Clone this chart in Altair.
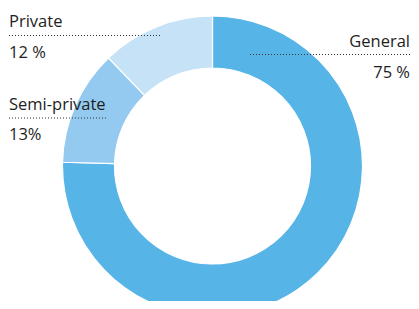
import altair as alt
import pandas as pd

categories = ["General", "Semi-private", "Private"]
shares = [75.4, 12.4, 12.2]
value_labels = ["75 %", "13%", "12 %"]
colors = ["#56b4e7", "#94caef", "#c6e2f6"]

df = pd.DataFrame({"category": categories, "share": shares,
                   "order": list(range(len(categories)))})

W, H = 403, 293
CX, CY = 204.5, 158

arc = alt.Chart(df).mark_arc(radius=150, innerRadius=98, stroke="white",
                             strokeWidth=1.2).encode(
    theta=alt.Theta("share:Q", stack=True),
    order=alt.Order("order:Q"),
    color=alt.Color("category:N", scale=alt.Scale(domain=categories, range=colors),
                    legend=None),
    x=alt.value(CX), y=alt.value(CY),
)

# label layout: (name_x, name_y, rule_x1, rule_x2, rule_y, value_y, align)
layout = {
    "General": (402, 39, 242, 403, 46.5, 70, "right"),
    "Semi-private": (1, 102, 1, 100, 110, 132, "left"),
    "Private": (1, 19, 1, 152, 27.5, 50, "left"),
}

font = "Open Sans"
layers = [arc]
base = alt.Chart(pd.DataFrame({"a": [0]}))
for cat, val in zip(categories, value_labels):
    nx, ny, rx1, rx2, ry, vy, al = layout[cat]
    layers.append(base.mark_text(text=cat, align=al, baseline="alphabetic", font=font,
                                 fontSize=16.5, color="#1e1e1e").encode(
        x=alt.value(nx), y=alt.value(ny)))
    layers.append(base.mark_text(text=val, align=al, baseline="alphabetic", font=font,
                                 fontSize=16.5, color="#1e1e1e").encode(
        x=alt.value(nx), y=alt.value(vy)))
    layers.append(base.mark_rule(color="#333333", strokeDash=[1, 2], strokeWidth=1).encode(
        x=alt.value(rx1), x2=alt.value(rx2), y=alt.value(ry)))

chart = alt.layer(*layers).properties(
    width=W, height=H, autosize=alt.AutoSizeParams(type="none"), padding=0
).configure_view(stroke=None)

chart.save("out.html", embed_options={"renderer": "svg", "actions": False})
